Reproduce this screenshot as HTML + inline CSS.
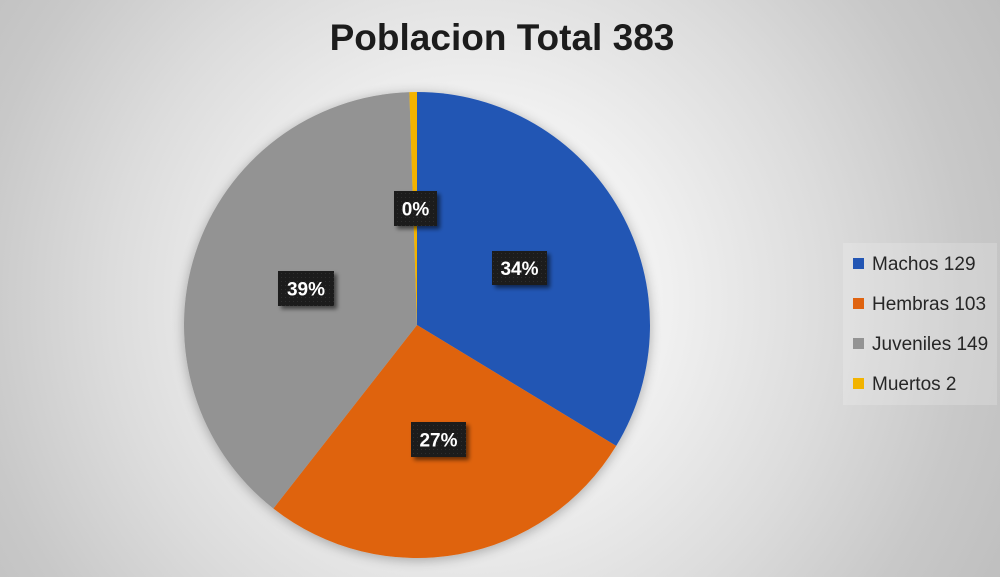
<!DOCTYPE html>
<html>
<head>
<meta charset="utf-8">
<style>
  html,body{margin:0;padding:0;}
  body{width:1000px;height:577px;overflow:hidden;
    background: radial-gradient(circle at 470px 300px, #f5f5f5 0px, #f1f1f1 190px, #dcdcdc 360px, #c8c8c8 500px, #b8b8b8 680px);
    font-family:"Liberation Sans", sans-serif;}
  svg{display:block;}
</style>
</head>
<body>
<svg width="1000" height="577" viewBox="0 0 1000 577" xmlns="http://www.w3.org/2000/svg">
  <defs>
    <filter id="pieShadow" x="-20%" y="-20%" width="140%" height="140%">
      <feGaussianBlur in="SourceAlpha" stdDeviation="6"/>
      <feOffset dx="0" dy="2" result="b"/>
      <feComponentTransfer><feFuncA type="linear" slope="0.3"/></feComponentTransfer>
      <feMerge><feMergeNode/><feMergeNode in="SourceGraphic"/></feMerge>
    </filter>
    <filter id="lblShadow" x="-30%" y="-30%" width="160%" height="160%">
      <feGaussianBlur in="SourceAlpha" stdDeviation="2"/>
      <feOffset dx="3" dy="3" result="b"/>
      <feComponentTransfer><feFuncA type="linear" slope="0.55"/></feComponentTransfer>
      <feMerge><feMergeNode/><feMergeNode in="SourceGraphic"/></feMerge>
    </filter>
    <pattern id="dots" width="4" height="4" patternUnits="userSpaceOnUse">
      <rect width="4" height="4" fill="#1d1d1d"/>
      <rect x="1" y="1" width="1" height="1" fill="#2e2e2e"/>
    </pattern>
  </defs>

  <!-- Title -->
  <text x="502" y="50" text-anchor="middle" font-family="Liberation Sans, sans-serif" font-weight="bold" font-size="37" fill="#1c1c1c">Poblacion Total 383</text>

  <!-- Pie -->
  <g filter="url(#pieShadow)">
    <path d="M417,325 L417,92 A233,233 0 0 1 616.17,445.91 Z" fill="#2356b4"/>
    <path d="M417,325 L616.17,445.91 A233,233 0 0 1 273.35,508.45 Z" fill="#df6310"/>
    <path d="M417,325 L273.35,508.45 A233,233 0 0 1 409.36,92.13 Z" fill="#939393"/>
    <path d="M417,325 L409.36,92.13 A233,233 0 0 1 417,92 Z" fill="#f2b300"/>
  </g>

  <!-- Data labels -->
  <g font-family="Liberation Sans, sans-serif" font-weight="bold" font-size="19" fill="#ffffff" text-anchor="middle">
    <g filter="url(#lblShadow)">
      <rect x="394" y="191" width="43" height="35" fill="url(#dots)"/>
    </g>
    <text x="415.5" y="215.5">0%</text>

    <g filter="url(#lblShadow)">
      <rect x="492" y="251" width="55" height="34" fill="url(#dots)"/>
    </g>
    <text x="519.5" y="275">34%</text>

    <g filter="url(#lblShadow)">
      <rect x="278" y="271" width="56" height="35" fill="url(#dots)"/>
    </g>
    <text x="306" y="295.5">39%</text>

    <g filter="url(#lblShadow)">
      <rect x="411" y="422" width="55" height="35" fill="url(#dots)"/>
    </g>
    <text x="438.5" y="446.5">27%</text>
  </g>

  <!-- Legend -->
  <rect x="843" y="243" width="154" height="162" fill="#ffffff" fill-opacity="0.18"/>
  <g font-family="Liberation Sans, sans-serif" font-size="19" fill="#262626">
    <rect x="853" y="258" width="11" height="11" fill="#2356b4"/>
    <text x="872" y="270">Machos 129</text>
    <rect x="853" y="298" width="11" height="11" fill="#df6310"/>
    <text x="872" y="310">Hembras 103</text>
    <rect x="853" y="338" width="11" height="11" fill="#939393"/>
    <text x="872" y="350">Juveniles 149</text>
    <rect x="853" y="378" width="11" height="11" fill="#f2b300"/>
    <text x="872" y="390">Muertos 2</text>
  </g>
</svg>
</body>
</html>
